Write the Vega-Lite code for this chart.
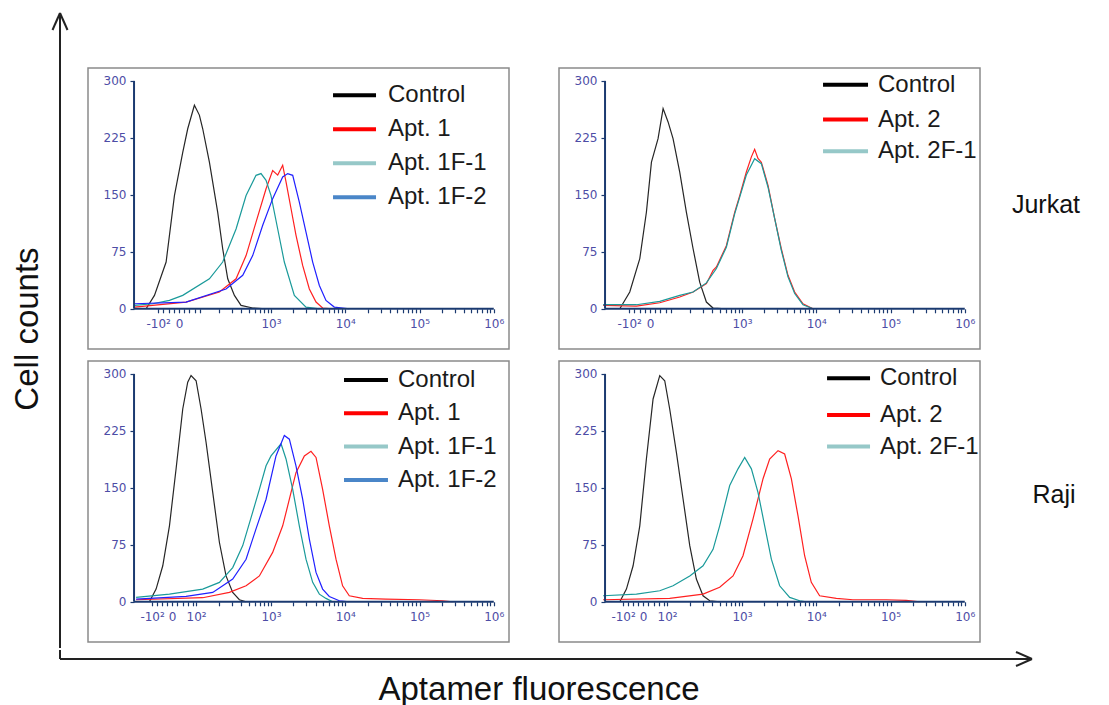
{
"$schema": "https://vega.github.io/schema/vega-lite/v6.json",
"padding": 0,
"spacing": 0,
"config": {"view": {"stroke": null}, "font": "Liberation Sans"},
"resolve": {"scale": {"color": "shared"}},
"datasets": {
"tl": [
{"series":"Control","logF":1.318,"count":0},{"series":"Control","logF":1.43,"count":17.6},{"series":"Control","logF":1.587,"count":61.5},{"series":"Control","logF":1.699,"count":149},{"series":"Control","logF":1.811,"count":206},{"series":"Control","logF":1.878,"count":237},{"series":"Control","logF":1.968,"count":268},{"series":"Control","logF":2.035,"count":255},{"series":"Control","logF":2.08,"count":237},{"series":"Control","logF":2.17,"count":193},{"series":"Control","logF":2.282,"count":127},{"series":"Control","logF":2.349,"count":79},{"series":"Control","logF":2.417,"count":39.5},{"series":"Control","logF":2.507,"count":17.6},{"series":"Control","logF":2.596,"count":4.4},{"series":"Control","logF":2.753,"count":1},{"series":"Control","logF":2.933,"count":0},
{"series":"Apt. 1","logF":1.161,"count":2.2},{"series":"Apt. 1","logF":1.856,"count":8.8},{"series":"Apt. 1","logF":2.305,"count":22},{"series":"Apt. 1","logF":2.529,"count":39.5},{"series":"Apt. 1","logF":2.664,"count":70},{"series":"Apt. 1","logF":2.798,"count":114},{"series":"Apt. 1","logF":2.933,"count":158},{"series":"Apt. 1","logF":3.022,"count":182},{"series":"Apt. 1","logF":3.09,"count":176},{"series":"Apt. 1","logF":3.157,"count":189},{"series":"Apt. 1","logF":3.202,"count":167},{"series":"Apt. 1","logF":3.269,"count":132},{"series":"Apt. 1","logF":3.336,"count":97},{"series":"Apt. 1","logF":3.426,"count":57},{"series":"Apt. 1","logF":3.516,"count":26},{"series":"Apt. 1","logF":3.606,"count":8.8},{"series":"Apt. 1","logF":3.695,"count":1},{"series":"Apt. 1","logF":3.83,"count":0},
{"series":"Apt. 1F-1","logF":1.161,"count":4.4},{"series":"Apt. 1F-1","logF":1.407,"count":6.6},{"series":"Apt. 1F-1","logF":1.632,"count":11},{"series":"Apt. 1F-1","logF":1.811,"count":17.6},{"series":"Apt. 1F-1","logF":2.17,"count":39.5},{"series":"Apt. 1F-1","logF":2.349,"count":61.5},{"series":"Apt. 1F-1","logF":2.529,"count":105},{"series":"Apt. 1F-1","logF":2.664,"count":149},{"series":"Apt. 1F-1","logF":2.798,"count":175.7},{"series":"Apt. 1F-1","logF":2.865,"count":178},{"series":"Apt. 1F-1","logF":2.933,"count":169},{"series":"Apt. 1F-1","logF":3.0,"count":149},{"series":"Apt. 1F-1","logF":3.09,"count":105},{"series":"Apt. 1F-1","logF":3.179,"count":61.5},{"series":"Apt. 1F-1","logF":3.314,"count":17.6},{"series":"Apt. 1F-1","logF":3.471,"count":2.2},{"series":"Apt. 1F-1","logF":3.651,"count":0},
{"series":"Apt. 1F-2","logF":1.161,"count":6.6},{"series":"Apt. 1F-2","logF":1.856,"count":8.8},{"series":"Apt. 1F-2","logF":2.394,"count":26},{"series":"Apt. 1F-2","logF":2.619,"count":44},{"series":"Apt. 1F-2","logF":2.753,"count":70},{"series":"Apt. 1F-2","logF":2.888,"count":110},{"series":"Apt. 1F-2","logF":3.022,"count":145},{"series":"Apt. 1F-2","logF":3.157,"count":173.5},{"series":"Apt. 1F-2","logF":3.224,"count":178},{"series":"Apt. 1F-2","logF":3.292,"count":175.7},{"series":"Apt. 1F-2","logF":3.381,"count":140.5},{"series":"Apt. 1F-2","logF":3.471,"count":101},{"series":"Apt. 1F-2","logF":3.561,"count":61.5},{"series":"Apt. 1F-2","logF":3.651,"count":30.7},{"series":"Apt. 1F-2","logF":3.74,"count":11},{"series":"Apt. 1F-2","logF":3.852,"count":2.2},{"series":"Apt. 1F-2","logF":4.054,"count":0}
],
"tr": [
{"series":"Control","logF":1.354,"count":0},{"series":"Control","logF":1.488,"count":22},{"series":"Control","logF":1.623,"count":66},{"series":"Control","logF":1.712,"count":127},{"series":"Control","logF":1.78,"count":193},{"series":"Control","logF":1.869,"count":224},{"series":"Control","logF":1.937,"count":263.5},{"series":"Control","logF":2.004,"count":246},{"series":"Control","logF":2.071,"count":224},{"series":"Control","logF":2.161,"count":180},{"series":"Control","logF":2.251,"count":127},{"series":"Control","logF":2.341,"count":79},{"series":"Control","logF":2.43,"count":35},{"series":"Control","logF":2.52,"count":8.8},{"series":"Control","logF":2.61,"count":0.9},{"series":"Control","logF":2.789,"count":0},
{"series":"Apt. 2","logF":1.129,"count":4.4},{"series":"Apt. 2","logF":1.578,"count":3.5},{"series":"Apt. 2","logF":1.892,"count":7.9},{"series":"Apt. 2","logF":2.161,"count":15.4},{"series":"Apt. 2","logF":2.341,"count":22},{"series":"Apt. 2","logF":2.52,"count":33},{"series":"Apt. 2","logF":2.61,"count":50.5},{"series":"Apt. 2","logF":2.655,"count":55},{"series":"Apt. 2","logF":2.789,"count":83},{"series":"Apt. 2","logF":2.901,"count":127},{"series":"Apt. 2","logF":2.969,"count":149},{"series":"Apt. 2","logF":3.058,"count":180},{"series":"Apt. 2","logF":3.126,"count":200},{"series":"Apt. 2","logF":3.17,"count":210},{"series":"Apt. 2","logF":3.215,"count":198},{"series":"Apt. 2","logF":3.26,"count":193},{"series":"Apt. 2","logF":3.35,"count":162.5},{"series":"Apt. 2","logF":3.44,"count":118.6},{"series":"Apt. 2","logF":3.529,"count":79},{"series":"Apt. 2","logF":3.619,"count":44},{"series":"Apt. 2","logF":3.709,"count":22},{"series":"Apt. 2","logF":3.821,"count":6.6},{"series":"Apt. 2","logF":3.956,"count":0},
{"series":"Apt. 2F-1","logF":1.129,"count":5.3},{"series":"Apt. 2F-1","logF":1.578,"count":5.3},{"series":"Apt. 2F-1","logF":1.892,"count":9.7},{"series":"Apt. 2F-1","logF":2.161,"count":17.6},{"series":"Apt. 2F-1","logF":2.341,"count":22},{"series":"Apt. 2F-1","logF":2.52,"count":34},{"series":"Apt. 2F-1","logF":2.655,"count":53},{"series":"Apt. 2F-1","logF":2.789,"count":81},{"series":"Apt. 2F-1","logF":2.901,"count":125},{"series":"Apt. 2F-1","logF":2.969,"count":147},{"series":"Apt. 2F-1","logF":3.058,"count":176},{"series":"Apt. 2F-1","logF":3.17,"count":197.6},{"series":"Apt. 2F-1","logF":3.26,"count":191},{"series":"Apt. 2F-1","logF":3.35,"count":160},{"series":"Apt. 2F-1","logF":3.44,"count":118.6},{"series":"Apt. 2F-1","logF":3.529,"count":77},{"series":"Apt. 2F-1","logF":3.619,"count":42},{"series":"Apt. 2F-1","logF":3.709,"count":20},{"series":"Apt. 2F-1","logF":3.821,"count":5.3},{"series":"Apt. 2F-1","logF":3.956,"count":0}
],
"bl": [
{"series":"Control","logF":1.362,"count":0},{"series":"Control","logF":1.452,"count":16.7},{"series":"Control","logF":1.542,"count":47.4},{"series":"Control","logF":1.632,"count":100},{"series":"Control","logF":1.721,"count":174.8},{"series":"Control","logF":1.811,"count":253.8},{"series":"Control","logF":1.878,"count":289},{"series":"Control","logF":1.923,"count":297.8},{"series":"Control","logF":1.991,"count":291},{"series":"Control","logF":2.058,"count":253.8},{"series":"Control","logF":2.125,"count":210},{"series":"Control","logF":2.215,"count":144},{"series":"Control","logF":2.305,"count":78},{"series":"Control","logF":2.394,"count":34},{"series":"Control","logF":2.484,"count":12.3},{"series":"Control","logF":2.574,"count":2.6},{"series":"Control","logF":2.664,"count":0},
{"series":"Apt. 1","logF":1.183,"count":2.6},{"series":"Apt. 1","logF":2.08,"count":5.3},{"series":"Apt. 1","logF":2.439,"count":12.3},{"series":"Apt. 1","logF":2.664,"count":21},{"series":"Apt. 1","logF":2.843,"count":34},{"series":"Apt. 1","logF":3.022,"count":65},{"series":"Apt. 1","logF":3.157,"count":100},{"series":"Apt. 1","logF":3.247,"count":135},{"series":"Apt. 1","logF":3.336,"count":170},{"series":"Apt. 1","logF":3.449,"count":192},{"series":"Apt. 1","logF":3.538,"count":198},{"series":"Apt. 1","logF":3.606,"count":190},{"series":"Apt. 1","logF":3.695,"count":148},{"series":"Apt. 1","logF":3.785,"count":100},{"series":"Apt. 1","logF":3.875,"count":56},{"series":"Apt. 1","logF":3.964,"count":21},{"series":"Apt. 1","logF":4.054,"count":7.9},{"series":"Apt. 1","logF":4.234,"count":4.4},{"series":"Apt. 1","logF":4.548,"count":3.5},{"series":"Apt. 1","logF":4.996,"count":2.6},{"series":"Apt. 1","logF":5.31,"count":1.3},{"series":"Apt. 1","logF":5.445,"count":0},
{"series":"Apt. 1F-1","logF":1.183,"count":5.7},{"series":"Apt. 1F-1","logF":1.632,"count":10},{"series":"Apt. 1F-1","logF":2.08,"count":16.7},{"series":"Apt. 1F-1","logF":2.305,"count":25.5},{"series":"Apt. 1F-1","logF":2.484,"count":45},{"series":"Apt. 1F-1","logF":2.619,"count":74},{"series":"Apt. 1F-1","logF":2.753,"count":118},{"series":"Apt. 1F-1","logF":2.843,"count":148},{"series":"Apt. 1F-1","logF":2.933,"count":179},{"series":"Apt. 1F-1","logF":3.0,"count":192},{"series":"Apt. 1F-1","logF":3.135,"count":208},{"series":"Apt. 1F-1","logF":3.202,"count":188},{"series":"Apt. 1F-1","logF":3.292,"count":148},{"series":"Apt. 1F-1","logF":3.381,"count":100},{"series":"Apt. 1F-1","logF":3.471,"count":56},{"series":"Apt. 1F-1","logF":3.561,"count":25.5},{"series":"Apt. 1F-1","logF":3.651,"count":10},{"series":"Apt. 1F-1","logF":3.74,"count":4.4},{"series":"Apt. 1F-1","logF":3.83,"count":0},
{"series":"Apt. 1F-2","logF":1.183,"count":3.5},{"series":"Apt. 1F-2","logF":1.856,"count":7},{"series":"Apt. 1F-2","logF":2.215,"count":12.3},{"series":"Apt. 1F-2","logF":2.484,"count":30},{"series":"Apt. 1F-2","logF":2.664,"count":56},{"series":"Apt. 1F-2","logF":2.798,"count":96},{"series":"Apt. 1F-2","logF":2.933,"count":135},{"series":"Apt. 1F-2","logF":3.067,"count":192},{"series":"Apt. 1F-2","logF":3.179,"count":219},{"series":"Apt. 1F-2","logF":3.247,"count":214},{"series":"Apt. 1F-2","logF":3.336,"count":179},{"series":"Apt. 1F-2","logF":3.426,"count":135},{"series":"Apt. 1F-2","logF":3.516,"count":82.6},{"series":"Apt. 1F-2","logF":3.606,"count":38.6},{"series":"Apt. 1F-2","logF":3.695,"count":16.7},{"series":"Apt. 1F-2","logF":3.785,"count":7},{"series":"Apt. 1F-2","logF":3.92,"count":1.3},{"series":"Apt. 1F-2","logF":4.054,"count":0}
],
"br": [
{"series":"Control","logF":1.354,"count":0},{"series":"Control","logF":1.443,"count":16.7},{"series":"Control","logF":1.533,"count":47.4},{"series":"Control","logF":1.623,"count":100},{"series":"Control","logF":1.712,"count":188},{"series":"Control","logF":1.802,"count":267},{"series":"Control","logF":1.892,"count":297.8},{"series":"Control","logF":1.959,"count":291},{"series":"Control","logF":2.026,"count":253.8},{"series":"Control","logF":2.116,"count":196.7},{"series":"Control","logF":2.206,"count":135.3},{"series":"Control","logF":2.296,"count":73.8},{"series":"Control","logF":2.385,"count":29.9},{"series":"Control","logF":2.475,"count":7.9},{"series":"Control","logF":2.565,"count":1.3},{"series":"Control","logF":2.699,"count":0},
{"series":"Apt. 2","logF":1.129,"count":2.6},{"series":"Apt. 2","logF":2.026,"count":4.4},{"series":"Apt. 2","logF":2.475,"count":10},{"series":"Apt. 2","logF":2.699,"count":19},{"series":"Apt. 2","logF":2.879,"count":34},{"series":"Apt. 2","logF":3.013,"count":60.6},{"series":"Apt. 2","logF":3.148,"count":109},{"series":"Apt. 2","logF":3.283,"count":162},{"series":"Apt. 2","logF":3.372,"count":188},{"series":"Apt. 2","logF":3.485,"count":199},{"series":"Apt. 2","logF":3.574,"count":194.5},{"series":"Apt. 2","logF":3.664,"count":162},{"series":"Apt. 2","logF":3.754,"count":113},{"series":"Apt. 2","logF":3.843,"count":60.6},{"series":"Apt. 2","logF":3.933,"count":25.5},{"series":"Apt. 2","logF":4.045,"count":7.9},{"series":"Apt. 2","logF":4.27,"count":4.4},{"series":"Apt. 2","logF":4.494,"count":2.6},{"series":"Apt. 2","logF":4.943,"count":2.6},{"series":"Apt. 2","logF":5.212,"count":1.8},{"series":"Apt. 2","logF":5.39,"count":0},
{"series":"Apt. 2F-1","logF":1.129,"count":7.9},{"series":"Apt. 2F-1","logF":1.578,"count":10},{"series":"Apt. 2F-1","logF":1.892,"count":14.5},{"series":"Apt. 2F-1","logF":2.071,"count":21},{"series":"Apt. 2F-1","logF":2.296,"count":34},{"series":"Apt. 2F-1","logF":2.475,"count":47.4},{"series":"Apt. 2F-1","logF":2.61,"count":69},{"series":"Apt. 2F-1","logF":2.699,"count":100},{"series":"Apt. 2F-1","logF":2.834,"count":153},{"series":"Apt. 2F-1","logF":2.946,"count":175},{"series":"Apt. 2F-1","logF":3.036,"count":190},{"series":"Apt. 2F-1","logF":3.126,"count":175},{"series":"Apt. 2F-1","logF":3.215,"count":144},{"series":"Apt. 2F-1","logF":3.305,"count":100},{"series":"Apt. 2F-1","logF":3.395,"count":56},{"series":"Apt. 2F-1","logF":3.507,"count":21},{"series":"Apt. 2F-1","logF":3.642,"count":5.7},{"series":"Apt. 2F-1","logF":3.776,"count":1.3},{"series":"Apt. 2F-1","logF":3.866,"count":0}
]
},
"vconcat": [
{
"spacing": 0,
"hconcat": [
{
"width": 87, "height": 648,
"data": {"values": [{}]},
"layer": [
{"mark": {"type": "rule", "color": "#222222", "strokeWidth": 2},
 "encoding": {"x": {"datum": 60, "type": "quantitative", "scale": {"domain": [0, 87], "nice": false, "zero": false}, "axis": null},
 "y": {"datum": 648, "type": "quantitative", "scale": {"domain": [648, 0], "nice": false, "zero": false}, "axis": null},
 "y2": {"datum": 13}}},
{"mark": {"type": "rule", "color": "#222222", "strokeWidth": 2},
 "encoding": {"x": {"datum": 60, "axis": null}, "y": {"datum": 13, "axis": null}, "x2": {"datum": 52.5}, "y2": {"datum": 30}}},
{"mark": {"type": "rule", "color": "#222222", "strokeWidth": 2},
 "encoding": {"x": {"datum": 60, "axis": null}, "y": {"datum": 13, "axis": null}, "x2": {"datum": 67.5}, "y2": {"datum": 30}}},
{"mark": {"type": "text", "angle": 270, "fontSize": 33, "font": "Liberation Sans", "color": "#111111", "align": "center", "baseline": "middle"},
 "encoding": {"x": {"datum": 28, "axis": null}, "y": {"datum": 329, "axis": null}, "text": {"value": "Cell counts"}}}
]
},
{
"spacing": 10,
"vconcat": [
{"width": 890, "height": 56.7, "data": {"values": [{}]}, "mark": {"type": "text"}, "encoding": {"text": {"value": ""}}},
{
"spacing": 48,
"hconcat": [
{
"width": 421, "height": 281,
"view": {"stroke": "#8a8a8a", "strokeWidth": 1.5},
"data": {"name": "tl"},
"layer": [
{"mark": {"type": "line", "strokeWidth": 1.2},
 "encoding": {
 "x": {"field": "logF", "type": "quantitative", "scale": {"domain": [0.535, 6.205], "nice": false, "zero": false},
  "axis": {"title": null, "offset": -40.2, "domain": false, "grid": false, "tickCount": 500,
   "values": [1.48, 1.55, 1.62, 1.69, 1.76, 1.83, 1.9, 1.97, 2.05, 2.301, 2.477, 2.602, 2.699, 2.778, 2.845, 2.903, 2.954, 3, 3.301, 3.477, 3.602, 3.699, 3.778, 3.845, 3.903, 3.954, 4, 4.301, 4.477, 4.602, 4.699, 4.778, 4.845, 4.903, 4.954, 5, 5.301, 5.477, 5.602, 5.699, 5.778, 5.845, 5.903, 5.954, 6],
   "labelExpr": "datum.value == 1.48 ? '-10²' : datum.value == 1.76 ? '0' : datum.value == 3 ? '10³' : datum.value == 4 ? '10⁴' : datum.value == 5 ? '10⁵' : datum.value == 6 ? '10⁶' : ''",
   "tickSize": 4, "tickColor": "#1b3a70", "tickWidth": 1.2, "labelColor": "#4d4da6", "labelFont": "DejaVu Sans", "labelFontSize": 12, "labelPadding": 6, "labelOverlap": false, "labelSeparation": -1000, "labelFlush": false, "labelBound": false}},
 "y": {"field": "count", "type": "quantitative", "scale": {"domain": [-53, 317], "nice": false, "zero": false},
  "axis": {"title": null, "offset": -46, "domain": false, "grid": false, "values": [0, 75, 150, 225, 300], "tickCount": 50, "tickSize": 4, "tickColor": "#1b3a70", "tickWidth": 1.2, "labelColor": "#4d4da6", "labelFont": "DejaVu Sans", "labelFontSize": 12, "labelPadding": 4, "labelOverlap": false, "labelFlush": false, "labelBound": false}},
 "color": {"field": "series", "type": "nominal", "scale": {"domain": ["Control", "Apt. 1", "Apt. 1F-1", "Apt. 1F-2", "Apt. 2", "Apt. 2F-1"], "range": ["#262626", "#ff2020", "#1a9a9a", "#2020ff", "#ff2020", "#1a9a9a"]}, "legend": null}
 }},
{"data": {"values": [{}]}, "mark": {"type": "rule", "color": "#1b3a70", "strokeWidth": 2}, "encoding": {"x": {"datum": 1.155}, "y": {"datum": 0}, "y2": {"datum": 300}}},
{"data": {"values": [{}]}, "mark": {"type": "rule", "color": "#1b3a70", "strokeWidth": 2}, "encoding": {"x": {"datum": 1.155}, "x2": {"datum": 6}, "y": {"datum": 0}}},
{"data": {"values": [{}]}, "mark": {"type": "rule", "color": "#000000", "strokeWidth": 4}, "encoding": {"x": {"datum": 3.835}, "x2": {"datum": 4.414}, "y": {"datum": 281.1}}},
{"data": {"values": [{}]}, "mark": {"type": "rule", "color": "#ff0000", "strokeWidth": 4}, "encoding": {"x": {"datum": 3.835}, "x2": {"datum": 4.414}, "y": {"datum": 236.3}}},
{"data": {"values": [{}]}, "mark": {"type": "rule", "color": "#96c8c8", "strokeWidth": 4}, "encoding": {"x": {"datum": 3.835}, "x2": {"datum": 4.414}, "y": {"datum": 191.5}}},
{"data": {"values": [{}]}, "mark": {"type": "rule", "color": "#4a86c8", "strokeWidth": 4}, "encoding": {"x": {"datum": 3.835}, "x2": {"datum": 4.414}, "y": {"datum": 146.7}}},
{"data": {"values": [{}]}, "mark": {"type": "text", "fontSize": 24, "font": "Liberation Sans", "color": "#1a1a1a", "align": "left", "baseline": "middle"}, "encoding": {"x": {"datum": 4.575}, "y": {"datum": 281.1}, "text": {"value": "Control"}}},
{"data": {"values": [{}]}, "mark": {"type": "text", "fontSize": 24, "font": "Liberation Sans", "color": "#1a1a1a", "align": "left", "baseline": "middle"}, "encoding": {"x": {"datum": 4.575}, "y": {"datum": 236.3}, "text": {"value": "Apt. 1"}}},
{"data": {"values": [{}]}, "mark": {"type": "text", "fontSize": 24, "font": "Liberation Sans", "color": "#1a1a1a", "align": "left", "baseline": "middle"}, "encoding": {"x": {"datum": 4.575}, "y": {"datum": 191.5}, "text": {"value": "Apt. 1F-1"}}},
{"data": {"values": [{}]}, "mark": {"type": "text", "fontSize": 24, "font": "Liberation Sans", "color": "#1a1a1a", "align": "left", "baseline": "middle"}, "encoding": {"x": {"datum": 4.575}, "y": {"datum": 146.7}, "text": {"value": "Apt. 1F-2"}}}
]
},
{
"width": 421, "height": 281,
"view": {"stroke": "#8a8a8a", "strokeWidth": 1.5},
"data": {"name": "tr"},
"layer": [
{"mark": {"type": "line", "strokeWidth": 1.2},
 "encoding": {
 "x": {"field": "logF", "type": "quantitative", "scale": {"domain": [0.535, 6.205], "nice": false, "zero": false},
  "axis": {"title": null, "offset": -40.2, "domain": false, "grid": false, "tickCount": 500,
   "values": [1.48, 1.55, 1.62, 1.69, 1.76, 1.83, 1.9, 1.97, 2.05, 2.301, 2.477, 2.602, 2.699, 2.778, 2.845, 2.903, 2.954, 3, 3.301, 3.477, 3.602, 3.699, 3.778, 3.845, 3.903, 3.954, 4, 4.301, 4.477, 4.602, 4.699, 4.778, 4.845, 4.903, 4.954, 5, 5.301, 5.477, 5.602, 5.699, 5.778, 5.845, 5.903, 5.954, 6],
   "labelExpr": "datum.value == 1.48 ? '-10²' : datum.value == 1.76 ? '0' : datum.value == 3 ? '10³' : datum.value == 4 ? '10⁴' : datum.value == 5 ? '10⁵' : datum.value == 6 ? '10⁶' : ''",
   "tickSize": 4, "tickColor": "#1b3a70", "tickWidth": 1.2, "labelColor": "#4d4da6", "labelFont": "DejaVu Sans", "labelFontSize": 12, "labelPadding": 6, "labelOverlap": false, "labelSeparation": -1000, "labelFlush": false, "labelBound": false}},
 "y": {"field": "count", "type": "quantitative", "scale": {"domain": [-53, 317], "nice": false, "zero": false},
  "axis": {"title": null, "offset": -46, "domain": false, "grid": false, "values": [0, 75, 150, 225, 300], "tickCount": 50, "tickSize": 4, "tickColor": "#1b3a70", "tickWidth": 1.2, "labelColor": "#4d4da6", "labelFont": "DejaVu Sans", "labelFontSize": 12, "labelPadding": 4, "labelOverlap": false, "labelFlush": false, "labelBound": false}},
 "color": {"field": "series", "type": "nominal", "scale": {"domain": ["Control", "Apt. 1", "Apt. 1F-1", "Apt. 1F-2", "Apt. 2", "Apt. 2F-1"], "range": ["#262626", "#ff2020", "#1a9a9a", "#2020ff", "#ff2020", "#1a9a9a"]}, "legend": null}
 }},
{"data": {"values": [{}]}, "mark": {"type": "rule", "color": "#1b3a70", "strokeWidth": 2}, "encoding": {"x": {"datum": 1.155}, "y": {"datum": 0}, "y2": {"datum": 300}}},
{"data": {"values": [{}]}, "mark": {"type": "rule", "color": "#1b3a70", "strokeWidth": 2}, "encoding": {"x": {"datum": 1.155}, "x2": {"datum": 6}, "y": {"datum": 0}}},
{"data": {"values": [{}]}, "mark": {"type": "rule", "color": "#000000", "strokeWidth": 4}, "encoding": {"x": {"datum": 4.091}, "x2": {"datum": 4.697}, "y": {"datum": 295.1}}},
{"data": {"values": [{}]}, "mark": {"type": "rule", "color": "#ff0000", "strokeWidth": 4}, "encoding": {"x": {"datum": 4.091}, "x2": {"datum": 4.697}, "y": {"datum": 249.1}}},
{"data": {"values": [{}]}, "mark": {"type": "rule", "color": "#96c8c8", "strokeWidth": 4}, "encoding": {"x": {"datum": 4.091}, "x2": {"datum": 4.697}, "y": {"datum": 207.3}}},
{"data": {"values": [{}]}, "mark": {"type": "text", "fontSize": 24, "font": "Liberation Sans", "color": "#1a1a1a", "align": "left", "baseline": "middle"}, "encoding": {"x": {"datum": 4.831}, "y": {"datum": 295.1}, "text": {"value": "Control"}}},
{"data": {"values": [{}]}, "mark": {"type": "text", "fontSize": 24, "font": "Liberation Sans", "color": "#1a1a1a", "align": "left", "baseline": "middle"}, "encoding": {"x": {"datum": 4.831}, "y": {"datum": 249.1}, "text": {"value": "Apt. 2"}}},
{"data": {"values": [{}]}, "mark": {"type": "text", "fontSize": 24, "font": "Liberation Sans", "color": "#1a1a1a", "align": "left", "baseline": "middle"}, "encoding": {"x": {"datum": 4.831}, "y": {"datum": 207.3}, "text": {"value": "Apt. 2F-1"}}}
]
}
]
},
{
"spacing": 48,
"hconcat": [
{
"width": 421, "height": 281,
"view": {"stroke": "#8a8a8a", "strokeWidth": 1.5},
"data": {"name": "bl"},
"layer": [
{"mark": {"type": "line", "strokeWidth": 1.2},
 "encoding": {
 "x": {"field": "logF", "type": "quantitative", "scale": {"domain": [0.535, 6.205], "nice": false, "zero": false},
  "axis": {"title": null, "offset": -40.2, "domain": false, "grid": false, "tickCount": 500,
   "values": [1.398, 1.47, 1.53, 1.6, 1.668, 1.74, 1.81, 1.88, 1.95, 1.991, 2.301, 2.477, 2.602, 2.699, 2.778, 2.845, 2.903, 2.954, 3, 3.301, 3.477, 3.602, 3.699, 3.778, 3.845, 3.903, 3.954, 4, 4.301, 4.477, 4.602, 4.699, 4.778, 4.845, 4.903, 4.954, 5, 5.301, 5.477, 5.602, 5.699, 5.778, 5.845, 5.903, 5.954, 6],
   "labelExpr": "datum.value == 1.398 ? '-10²' : datum.value == 1.668 ? '0' : datum.value == 1.991 ? '10²' : datum.value == 3 ? '10³' : datum.value == 4 ? '10⁴' : datum.value == 5 ? '10⁵' : datum.value == 6 ? '10⁶' : ''",
   "tickSize": 4, "tickColor": "#1b3a70", "tickWidth": 1.2, "labelColor": "#4d4da6", "labelFont": "DejaVu Sans", "labelFontSize": 12, "labelPadding": 6, "labelOverlap": false, "labelSeparation": -1000, "labelFlush": false, "labelBound": false}},
 "y": {"field": "count", "type": "quantitative", "scale": {"domain": [-53, 317], "nice": false, "zero": false},
  "axis": {"title": null, "offset": -46, "domain": false, "grid": false, "values": [0, 75, 150, 225, 300], "tickCount": 50, "tickSize": 4, "tickColor": "#1b3a70", "tickWidth": 1.2, "labelColor": "#4d4da6", "labelFont": "DejaVu Sans", "labelFontSize": 12, "labelPadding": 4, "labelOverlap": false, "labelFlush": false, "labelBound": false}},
 "color": {"field": "series", "type": "nominal", "scale": {"domain": ["Control", "Apt. 1", "Apt. 1F-1", "Apt. 1F-2", "Apt. 2", "Apt. 2F-1"], "range": ["#262626", "#ff2020", "#1a9a9a", "#2020ff", "#ff2020", "#1a9a9a"]}, "legend": null}
 }},
{"data": {"values": [{}]}, "mark": {"type": "rule", "color": "#1b3a70", "strokeWidth": 2}, "encoding": {"x": {"datum": 1.155}, "y": {"datum": 0}, "y2": {"datum": 300}}},
{"data": {"values": [{}]}, "mark": {"type": "rule", "color": "#1b3a70", "strokeWidth": 2}, "encoding": {"x": {"datum": 1.155}, "x2": {"datum": 6}, "y": {"datum": 0}}},
{"data": {"values": [{}]}, "mark": {"type": "rule", "color": "#000000", "strokeWidth": 4}, "encoding": {"x": {"datum": 3.983}, "x2": {"datum": 4.575}, "y": {"datum": 292}}},
{"data": {"values": [{}]}, "mark": {"type": "rule", "color": "#ff0000", "strokeWidth": 4}, "encoding": {"x": {"datum": 3.983}, "x2": {"datum": 4.575}, "y": {"datum": 248.1}}},
{"data": {"values": [{}]}, "mark": {"type": "rule", "color": "#96c8c8", "strokeWidth": 4}, "encoding": {"x": {"datum": 3.983}, "x2": {"datum": 4.575}, "y": {"datum": 204.3}}},
{"data": {"values": [{}]}, "mark": {"type": "rule", "color": "#4a86c8", "strokeWidth": 4}, "encoding": {"x": {"datum": 3.983}, "x2": {"datum": 4.575}, "y": {"datum": 160.3}}},
{"data": {"values": [{}]}, "mark": {"type": "text", "fontSize": 24, "font": "Liberation Sans", "color": "#1a1a1a", "align": "left", "baseline": "middle"}, "encoding": {"x": {"datum": 4.71}, "y": {"datum": 292}, "text": {"value": "Control"}}},
{"data": {"values": [{}]}, "mark": {"type": "text", "fontSize": 24, "font": "Liberation Sans", "color": "#1a1a1a", "align": "left", "baseline": "middle"}, "encoding": {"x": {"datum": 4.71}, "y": {"datum": 248.1}, "text": {"value": "Apt. 1"}}},
{"data": {"values": [{}]}, "mark": {"type": "text", "fontSize": 24, "font": "Liberation Sans", "color": "#1a1a1a", "align": "left", "baseline": "middle"}, "encoding": {"x": {"datum": 4.71}, "y": {"datum": 204.3}, "text": {"value": "Apt. 1F-1"}}},
{"data": {"values": [{}]}, "mark": {"type": "text", "fontSize": 24, "font": "Liberation Sans", "color": "#1a1a1a", "align": "left", "baseline": "middle"}, "encoding": {"x": {"datum": 4.71}, "y": {"datum": 160.3}, "text": {"value": "Apt. 1F-2"}}}
]
},
{
"width": 421, "height": 281,
"view": {"stroke": "#8a8a8a", "strokeWidth": 1.5},
"data": {"name": "br"},
"layer": [
{"mark": {"type": "line", "strokeWidth": 1.2},
 "encoding": {
 "x": {"field": "logF", "type": "quantitative", "scale": {"domain": [0.535, 6.205], "nice": false, "zero": false},
  "axis": {"title": null, "offset": -40.2, "domain": false, "grid": false, "tickCount": 500,
   "values": [1.398, 1.47, 1.53, 1.6, 1.668, 1.74, 1.81, 1.88, 1.95, 1.991, 2.301, 2.477, 2.602, 2.699, 2.778, 2.845, 2.903, 2.954, 3, 3.301, 3.477, 3.602, 3.699, 3.778, 3.845, 3.903, 3.954, 4, 4.301, 4.477, 4.602, 4.699, 4.778, 4.845, 4.903, 4.954, 5, 5.301, 5.477, 5.602, 5.699, 5.778, 5.845, 5.903, 5.954, 6],
   "labelExpr": "datum.value == 1.398 ? '-10²' : datum.value == 1.668 ? '0' : datum.value == 1.991 ? '10²' : datum.value == 3 ? '10³' : datum.value == 4 ? '10⁴' : datum.value == 5 ? '10⁵' : datum.value == 6 ? '10⁶' : ''",
   "tickSize": 4, "tickColor": "#1b3a70", "tickWidth": 1.2, "labelColor": "#4d4da6", "labelFont": "DejaVu Sans", "labelFontSize": 12, "labelPadding": 6, "labelOverlap": false, "labelSeparation": -1000, "labelFlush": false, "labelBound": false}},
 "y": {"field": "count", "type": "quantitative", "scale": {"domain": [-53, 317], "nice": false, "zero": false},
  "axis": {"title": null, "offset": -46, "domain": false, "grid": false, "values": [0, 75, 150, 225, 300], "tickCount": 50, "tickSize": 4, "tickColor": "#1b3a70", "tickWidth": 1.2, "labelColor": "#4d4da6", "labelFont": "DejaVu Sans", "labelFontSize": 12, "labelPadding": 4, "labelOverlap": false, "labelFlush": false, "labelBound": false}},
 "color": {"field": "series", "type": "nominal", "scale": {"domain": ["Control", "Apt. 1", "Apt. 1F-1", "Apt. 1F-2", "Apt. 2", "Apt. 2F-1"], "range": ["#262626", "#ff2020", "#1a9a9a", "#2020ff", "#ff2020", "#1a9a9a"]}, "legend": null}
 }},
{"data": {"values": [{}]}, "mark": {"type": "rule", "color": "#1b3a70", "strokeWidth": 2}, "encoding": {"x": {"datum": 1.155}, "y": {"datum": 0}, "y2": {"datum": 300}}},
{"data": {"values": [{}]}, "mark": {"type": "rule", "color": "#1b3a70", "strokeWidth": 2}, "encoding": {"x": {"datum": 1.155}, "x2": {"datum": 6}, "y": {"datum": 0}}},
{"data": {"values": [{}]}, "mark": {"type": "rule", "color": "#000000", "strokeWidth": 4}, "encoding": {"x": {"datum": 4.145}, "x2": {"datum": 4.724}, "y": {"datum": 294.2}}},
{"data": {"values": [{}]}, "mark": {"type": "rule", "color": "#ff0000", "strokeWidth": 4}, "encoding": {"x": {"datum": 4.145}, "x2": {"datum": 4.724}, "y": {"datum": 245.9}}},
{"data": {"values": [{}]}, "mark": {"type": "rule", "color": "#96c8c8", "strokeWidth": 4}, "encoding": {"x": {"datum": 4.145}, "x2": {"datum": 4.724}, "y": {"datum": 204.3}}},
{"data": {"values": [{}]}, "mark": {"type": "text", "fontSize": 24, "font": "Liberation Sans", "color": "#1a1a1a", "align": "left", "baseline": "middle"}, "encoding": {"x": {"datum": 4.858}, "y": {"datum": 294.2}, "text": {"value": "Control"}}},
{"data": {"values": [{}]}, "mark": {"type": "text", "fontSize": 24, "font": "Liberation Sans", "color": "#1a1a1a", "align": "left", "baseline": "middle"}, "encoding": {"x": {"datum": 4.858}, "y": {"datum": 245.9}, "text": {"value": "Apt. 2"}}},
{"data": {"values": [{}]}, "mark": {"type": "text", "fontSize": 24, "font": "Liberation Sans", "color": "#1a1a1a", "align": "left", "baseline": "middle"}, "encoding": {"x": {"datum": 4.858}, "y": {"datum": 204.3}, "text": {"value": "Apt. 2F-1"}}}
]
}
]
}
]
},
{
"width": 132, "height": 648,
"data": {"values": [{}]},
"layer": [
{"mark": {"type": "text", "fontSize": 25, "font": "Liberation Sans", "color": "#111111", "align": "center", "baseline": "middle"},
 "encoding": {"x": {"datum": 65, "type": "quantitative", "scale": {"domain": [0, 132], "nice": false, "zero": false}, "axis": null},
 "y": {"datum": 205, "type": "quantitative", "scale": {"domain": [648, 0], "nice": false, "zero": false}, "axis": null},
 "text": {"value": "Jurkat"}}},
{"mark": {"type": "text", "fontSize": 25, "font": "Liberation Sans", "color": "#111111", "align": "center", "baseline": "middle"},
 "encoding": {"x": {"datum": 73, "axis": null}, "y": {"datum": 495, "axis": null}, "text": {"value": "Raji"}}}
]
}
]
},
{
"width": 1109, "height": 57,
"data": {"values": [{}]},
"layer": [
{"mark": {"type": "rule", "color": "#222222", "strokeWidth": 2},
 "encoding": {"x": {"datum": 60, "type": "quantitative", "scale": {"domain": [0, 1109], "nice": false, "zero": false}, "axis": null},
 "x2": {"datum": 1032},
 "y": {"datum": 9, "type": "quantitative", "scale": {"domain": [57, 0], "nice": false, "zero": false}, "axis": null}}},
{"mark": {"type": "rule", "color": "#222222", "strokeWidth": 2},
 "encoding": {"x": {"datum": 60, "axis": null}, "y": {"datum": 0, "axis": null}, "y2": {"datum": 9}}},
{"mark": {"type": "rule", "color": "#222222", "strokeWidth": 2},
 "encoding": {"x": {"datum": 1032, "axis": null}, "y": {"datum": 9, "axis": null}, "x2": {"datum": 1016}, "y2": {"datum": 2}}},
{"mark": {"type": "rule", "color": "#222222", "strokeWidth": 2},
 "encoding": {"x": {"datum": 1032, "axis": null}, "y": {"datum": 9, "axis": null}, "x2": {"datum": 1016}, "y2": {"datum": 16}}},
{"mark": {"type": "text", "fontSize": 33, "font": "Liberation Sans", "color": "#111111", "align": "center", "baseline": "middle"},
 "encoding": {"x": {"datum": 539, "axis": null}, "y": {"datum": 40, "axis": null}, "text": {"value": "Aptamer fluorescence"}}}
]
}
]
}
